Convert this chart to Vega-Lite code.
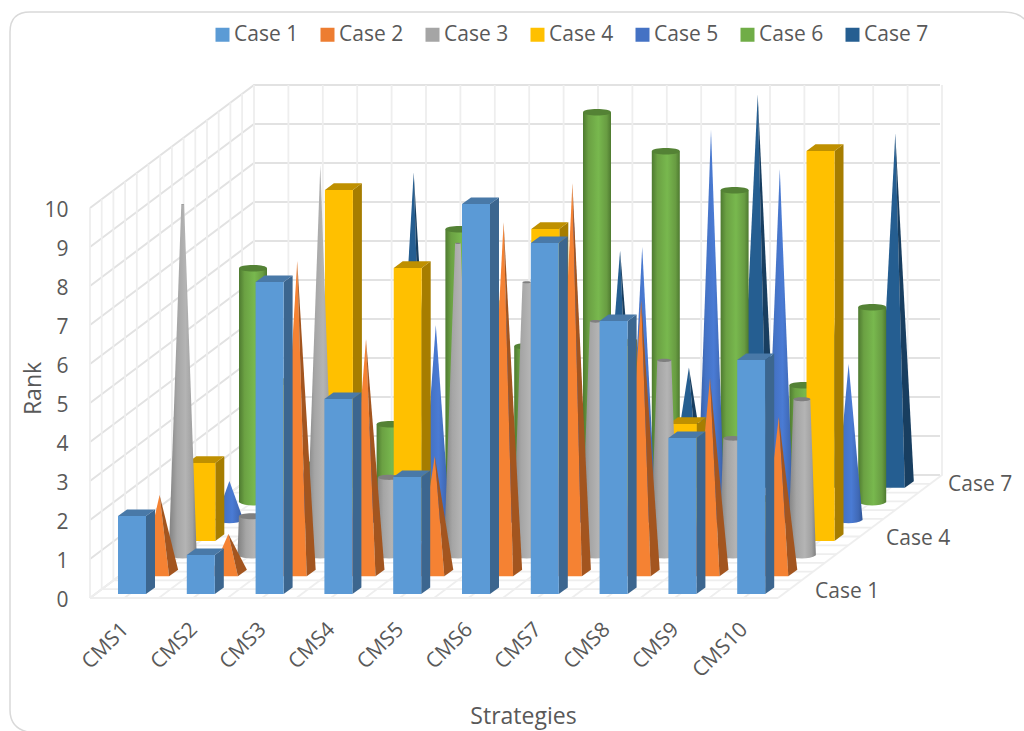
{"$schema":"https://vega.github.io/schema/vega-lite/v6.json","width":688,"height":390,"autosize":"none","padding":{"left":90,"top":208,"right":246,"bottom":133},"background":"white","view":{"stroke":null},
"config":{"font":"Open Sans"},
"datasets":{"ranks":[
{"strategy":"CMS1","case":"Case 1","value":2},{"strategy":"CMS2","case":"Case 1","value":1},{"strategy":"CMS3","case":"Case 1","value":8},{"strategy":"CMS4","case":"Case 1","value":5},{"strategy":"CMS5","case":"Case 1","value":3},{"strategy":"CMS6","case":"Case 1","value":10},{"strategy":"CMS7","case":"Case 1","value":9},{"strategy":"CMS8","case":"Case 1","value":7},{"strategy":"CMS9","case":"Case 1","value":4},{"strategy":"CMS10","case":"Case 1","value":6},
{"strategy":"CMS1","case":"Case 2","value":2},{"strategy":"CMS2","case":"Case 2","value":1},{"strategy":"CMS3","case":"Case 2","value":8},{"strategy":"CMS4","case":"Case 2","value":6},{"strategy":"CMS5","case":"Case 2","value":3},{"strategy":"CMS6","case":"Case 2","value":9},{"strategy":"CMS7","case":"Case 2","value":10},{"strategy":"CMS8","case":"Case 2","value":7},{"strategy":"CMS9","case":"Case 2","value":5},{"strategy":"CMS10","case":"Case 2","value":4},
{"strategy":"CMS1","case":"Case 3","value":9},{"strategy":"CMS2","case":"Case 3","value":1},{"strategy":"CMS3","case":"Case 3","value":10},{"strategy":"CMS4","case":"Case 3","value":2},{"strategy":"CMS5","case":"Case 3","value":8},{"strategy":"CMS6","case":"Case 3","value":7},{"strategy":"CMS7","case":"Case 3","value":6},{"strategy":"CMS8","case":"Case 3","value":5},{"strategy":"CMS9","case":"Case 3","value":3},{"strategy":"CMS10","case":"Case 3","value":4},
{"strategy":"CMS1","case":"Case 4","value":2},{"strategy":"CMS2","case":"Case 4","value":4},{"strategy":"CMS3","case":"Case 4","value":9},{"strategy":"CMS4","case":"Case 4","value":7},{"strategy":"CMS5","case":"Case 4","value":6},{"strategy":"CMS6","case":"Case 4","value":8},{"strategy":"CMS7","case":"Case 4","value":5},{"strategy":"CMS8","case":"Case 4","value":3},{"strategy":"CMS9","case":"Case 4","value":1},{"strategy":"CMS10","case":"Case 4","value":10},
{"strategy":"CMS1","case":"Case 5","value":1},{"strategy":"CMS2","case":"Case 5","value":2},{"strategy":"CMS3","case":"Case 5","value":3},{"strategy":"CMS4","case":"Case 5","value":5},{"strategy":"CMS5","case":"Case 5","value":6},{"strategy":"CMS6","case":"Case 5","value":8},{"strategy":"CMS7","case":"Case 5","value":7},{"strategy":"CMS8","case":"Case 5","value":10},{"strategy":"CMS9","case":"Case 5","value":9},{"strategy":"CMS10","case":"Case 5","value":4},
{"strategy":"CMS1","case":"Case 6","value":6},{"strategy":"CMS2","case":"Case 6","value":1},{"strategy":"CMS3","case":"Case 6","value":2},{"strategy":"CMS4","case":"Case 6","value":7},{"strategy":"CMS5","case":"Case 6","value":4},{"strategy":"CMS6","case":"Case 6","value":10},{"strategy":"CMS7","case":"Case 6","value":9},{"strategy":"CMS8","case":"Case 6","value":8},{"strategy":"CMS9","case":"Case 6","value":3},{"strategy":"CMS10","case":"Case 6","value":5},
{"strategy":"CMS1","case":"Case 7","value":2},{"strategy":"CMS2","case":"Case 7","value":1},{"strategy":"CMS3","case":"Case 7","value":8},{"strategy":"CMS4","case":"Case 7","value":5},{"strategy":"CMS5","case":"Case 7","value":4},{"strategy":"CMS6","case":"Case 7","value":6},{"strategy":"CMS7","case":"Case 7","value":3},{"strategy":"CMS8","case":"Case 7","value":10},{"strategy":"CMS9","case":"Case 7","value":7},{"strategy":"CMS10","case":"Case 7","value":9}
],"levels":[{"strategy":"CMS1","value":0},{"strategy":"CMS1","value":1},{"strategy":"CMS1","value":2},{"strategy":"CMS1","value":3},{"strategy":"CMS1","value":4},{"strategy":"CMS1","value":5},{"strategy":"CMS1","value":6},{"strategy":"CMS1","value":7},{"strategy":"CMS1","value":8},{"strategy":"CMS1","value":9},{"strategy":"CMS1","value":10}]},
"data":{"name":"ranks"},
"resolve":{"scale":{"shape":"independent"}},
"encoding":{
"x":{"field":"strategy","type":"nominal","sort":null,"scale":{"type":"band","domain":["CMS1","CMS2","CMS3","CMS4","CMS5","CMS6","CMS7","CMS8","CMS9","CMS10"],"paddingInner":0,"paddingOuter":0},"axis":{"title":"Strategies","titleFont":"Open Sans","titleFontSize":23,"titleFontWeight":"normal","titleColor":"#595959","titleX":433,"titleY":118,"titleBaseline":"middle","titleAlign":"center","labelAngle":-45,"labelAlign":"right","labelBaseline":"middle","labelFont":"Open Sans","labelFontSize":21,"labelColor":"#595959","labelPadding":28,"labelOffset":1,"ticks":false,"domain":false,"grid":false}},
"y":{"field":"value","type":"quantitative","scale":{"domain":[0,10],"nice":false},"axis":{"title":"Rank","titleFont":"Open Sans","titleFontSize":23,"titleFontWeight":"normal","titleColor":"#595959","titleX":-57,"titleY":180,"titleBaseline":"middle","labelFont":"Open Sans","labelFontSize":21,"labelColor":"#595959","labelPadding":22,"labelOffset":2,"ticks":false,"domain":false,"grid":false,"values":[0,1,2,3,4,5,6,7,8,9,10]}}
},
"layer":[
{"mark":{"type":"point","filled":true,"size":0,"opacity":1},"encoding":{"color":{"field":"case","type":"nominal","scale":{"domain":["Case 1","Case 2","Case 3","Case 4","Case 5","Case 6","Case 7"],"range":["#5B9BD5","#ED7D31","#A5A5A5","#FFC000","#4472C4","#70AD47","#255E91"]},"legend":{"orient":"none","legendX":122,"legendY":-184,"direction":"horizontal","columns":7,"title":null,"symbolType":"square","symbolSize":196,"symbolOpacity":1,"symbolStrokeWidth":0,"labelFont":"Open Sans","labelFontSize":21,"labelColor":"#595959","labelOffset":1,"columnPadding":18,"gridAlign":"each"}}}},
{"data":{"name":"levels"},"mark":{"type":"point","filled":false,"opacity":1,"size":4,"shape":"M-62,134Q-80,130 -80,112L-80,-566Q-80,-586 -60,-586L914,-586Q934,-586 940,-570","stroke":"#d9d9d9","strokeWidth":1.5,"xOffset":-34.4},"transform":[{"filter":"datum.value==0"}]},
{"data":{"name":"levels"},"mark":{"type":"point","filled":false,"opacity":1,"size":4,"shape":"M0,0L164,-123L850,-123","stroke":"#e2e2e2","strokeWidth":2,"xOffset":-34.4}},
{"data":{"name":"levels"},"transform":[{"filter":"datum.value==0"}],"mark":{"type":"point","filled":false,"opacity":1,"size":4,"stroke":"#eeeeee","strokeWidth":1.8,"xOffset":-34.4,"shape":"M0,0L0,-390M0,0L688,0M11.7,-8.8L11.7,-398.8M11.7,-8.8L699.7,-8.8M23.4,-17.6L23.4,-407.6M23.4,-17.6L711.4,-17.6M35.1,-26.4L35.1,-416.4M35.1,-26.4L723.1,-26.4M46.8,-35.1L46.8,-425.1M46.8,-35.1L734.8,-35.1M58.5,-43.9L58.5,-433.9M58.5,-43.9L746.5,-43.9M70.2,-52.7L70.2,-442.7M70.2,-52.7L758.2,-52.7M81.9,-61.5L81.9,-451.5M81.9,-61.5L769.9,-61.5M93.6,-70.3L93.6,-460.3M93.6,-70.3L781.6,-70.3M105.3,-79.1L105.3,-469.1M105.3,-79.1L793.3,-79.1M117,-87.9L117,-477.9M117,-87.9L805,-87.9M128.7,-96.6L128.7,-486.6M128.7,-96.6L816.7,-96.6M140.4,-105.4L140.4,-495.4M140.4,-105.4L828.4,-105.4M152.1,-114.2L152.1,-504.2M152.1,-114.2L840.1,-114.2"}},
{"transform":[{"filter":"datum.case=='Case 1'"}],"mark":{"type":"point","filled":false,"opacity":1,"size":4,"stroke":"#eeeeee","strokeWidth":1.8,"xOffset":-34.4,"shape":"M0,0L164,-123L164,-513"},"encoding":{"y":{"datum":0}}},
{"transform":[{"filter":"datum.case=='Case 1'"}],"mark":{"type":"point","filled":false,"opacity":1,"size":4,"stroke":"#eeeeee","strokeWidth":1.8,"shape":"M0,0L164,-123L164,-513"},"encoding":{"y":{"datum":0}}},
{"transform":[{"filter":"datum.case=='Case 1'&&datum.strategy=='CMS10'"}],"mark":{"type":"point","filled":false,"opacity":1,"size":4,"stroke":"#eeeeee","strokeWidth":1.8,"xOffset":34.4,"shape":"M0,0L164,-123L164,-513"},"encoding":{"y":{"datum":0}}},

{"transform":[{"filter":"datum.case=='Case 7'"}],"mark":{"type":"point","filled":true,"opacity":1,"size":4,"fill":"#255E91","stroke":null,"xOffset":151.7,"yOffset":-113.5},"encoding":{"shape":{"field":"value","type":"nominal","legend":null,"scale":{"domain":[1,2,3,4,5,6,7,8,9,10],"range":["M0,0L-18.5,42.3L9.5,42.3Z","M0,0L-18.5,81.3L9.5,81.3Z","M0,0L-18.5,120.3L9.5,120.3Z","M0,0L-18.5,159.3L9.5,159.3Z","M0,0L-18.5,198.3L9.5,198.3Z","M0,0L-18.5,237.3L9.5,237.3Z","M0,0L-18.5,276.3L9.5,276.3Z","M0,0L-18.5,315.3L9.5,315.3Z","M0,0L-18.5,354.3L9.5,354.3Z","M0,0L-18.5,393.3L9.5,393.3Z"]}}}},
{"transform":[{"filter":"datum.case=='Case 7'"}],"mark":{"type":"point","filled":true,"opacity":1,"size":4,"fill":"#183E60","stroke":null,"xOffset":151.7,"yOffset":-113.5},"encoding":{"shape":{"field":"value","type":"nominal","legend":null,"scale":{"domain":[1,2,3,4,5,6,7,8,9,10],"range":["M0,0L9.5,42.3L18.5,35.7Z","M0,0L9.5,81.3L18.5,74.7Z","M0,0L9.5,120.3L18.5,113.7Z","M0,0L9.5,159.3L18.5,152.7Z","M0,0L9.5,198.3L18.5,191.7Z","M0,0L9.5,237.3L18.5,230.7Z","M0,0L9.5,276.3L18.5,269.7Z","M0,0L9.5,315.3L18.5,308.7Z","M0,0L9.5,354.3L18.5,347.7Z","M0,0L9.5,393.3L18.5,386.7Z"]}}}},

{"transform":[{"filter":"datum.case=='Case 6'"}],"mark":{"type":"point","filled":true,"opacity":1,"size":4,"stroke":null,"xOffset":128.6,"yOffset":-95.8,"fill":{"gradient":"linear","x1":0,"x2":1,"y1":0,"y2":0,"stops":[{"offset":0,"color":"#4e7a30"},{"offset":0.2,"color":"#6ba143"},{"offset":0.55,"color":"#78b84e"},{"offset":0.85,"color":"#689c42"},{"offset":1,"color":"#4e7a30"}]}},"encoding":{"shape":{"field":"value","type":"nominal","legend":null,"scale":{"domain":[1,2,3,4,5,6,7,8,9,10],"range":["M-14,0L-14,39C-8,43.4 8,43.4 14,39L14,0Z","M-14,0L-14,78C-8,82.4 8,82.4 14,78L14,0Z","M-14,0L-14,117C-8,121.4 8,121.4 14,117L14,0Z","M-14,0L-14,156C-8,160.4 8,160.4 14,156L14,0Z","M-14,0L-14,195C-8,199.4 8,199.4 14,195L14,0Z","M-14,0L-14,234C-8,238.4 8,238.4 14,234L14,0Z","M-14,0L-14,273C-8,277.4 8,277.4 14,273L14,0Z","M-14,0L-14,312C-8,316.4 8,316.4 14,312L14,0Z","M-14,0L-14,351C-8,355.4 8,355.4 14,351L14,0Z","M-14,0L-14,390C-8,394.4 8,394.4 14,390L14,0Z"]}}}},
{"transform":[{"filter":"datum.case=='Case 6'"}],"mark":{"type":"point","filled":true,"opacity":1,"size":4,"stroke":null,"fill":"#548235","xOffset":128.6,"yOffset":-95.8,"shape":"M-14,0C-14,-4.4 14,-4.4 14,0C14,4.4 -14,4.4 -14,0Z"}},

{"transform":[{"filter":"datum.case=='Case 5'"}],"mark":{"type":"point","filled":true,"opacity":1,"size":4,"stroke":null,"xOffset":105,"yOffset":-78.1,"fill":{"gradient":"linear","x1":0,"x2":1,"y1":0,"y2":0,"stops":[{"offset":0,"color":"#2f5597"},{"offset":0.3,"color":"#4472c4"},{"offset":0.6,"color":"#4a7bd4"},{"offset":0.85,"color":"#4069b6"},{"offset":1,"color":"#2f5597"}]}},"encoding":{"shape":{"field":"value","type":"nominal","legend":null,"scale":{"domain":[1,2,3,4,5,6,7,8,9,10],"range":["M0,0L-14,39C-8,43.4 8,43.4 14,39Z","M0,0L-14,78C-8,82.4 8,82.4 14,78Z","M0,0L-14,117C-8,121.4 8,121.4 14,117Z","M0,0L-14,156C-8,160.4 8,160.4 14,156Z","M0,0L-14,195C-8,199.4 8,199.4 14,195Z","M0,0L-14,234C-8,238.4 8,238.4 14,234Z","M0,0L-14,273C-8,277.4 8,277.4 14,273Z","M0,0L-14,312C-8,316.4 8,316.4 14,312Z","M0,0L-14,351C-8,355.4 8,355.4 14,351Z","M0,0L-14,390C-8,394.4 8,394.4 14,390Z"]}}}},

{"transform":[{"filter":"datum.case=='Case 4'"}],"mark":{"type":"point","filled":true,"opacity":1,"size":4,"fill":"#A67D00","stroke":null,"xOffset":76.9,"yOffset":-57.1},"encoding":{"shape":{"field":"value","type":"nominal","legend":null,"scale":{"domain":[1,2,3,4,5,6,7,8,9,10],"range":["M14,0L23,-6.6L23,32.4L14,39Z","M14,0L23,-6.6L23,71.4L14,78Z","M14,0L23,-6.6L23,110.4L14,117Z","M14,0L23,-6.6L23,149.4L14,156Z","M14,0L23,-6.6L23,188.4L14,195Z","M14,0L23,-6.6L23,227.4L14,234Z","M14,0L23,-6.6L23,266.4L14,273Z","M14,0L23,-6.6L23,305.4L14,312Z","M14,0L23,-6.6L23,344.4L14,351Z","M14,0L23,-6.6L23,383.4L14,390Z"]}}}},
{"transform":[{"filter":"datum.case=='Case 4'"}],"mark":{"type":"point","filled":true,"opacity":1,"size":4,"fill":"#BF9000","stroke":null,"xOffset":76.9,"yOffset":-57.1,"shape":"M-14,0L-5,-6.6L23,-6.6L14,0Z"}},
{"transform":[{"filter":"datum.case=='Case 4'"}],"mark":{"type":"bar","width":28,"fill":"#FFC000","xOffset":76.9,"yOffset":-57.1,"y2Offset":-57.1}},

{"transform":[{"filter":"datum.case=='Case 3'"}],"mark":{"type":"point","filled":true,"opacity":1,"size":4,"stroke":null,"xOffset":58.3,"yOffset":-42.7,"fill":{"gradient":"linear","x1":0,"x2":1,"y1":0,"y2":0,"stops":[{"offset":0,"color":"#7f7f7f"},{"offset":0.3,"color":"#a5a5a5"},{"offset":0.6,"color":"#b4b4b4"},{"offset":0.85,"color":"#a0a0a0"},{"offset":1,"color":"#7f7f7f"}]}},"encoding":{"shape":{"field":"value","type":"nominal","legend":null,"scale":{"domain":[1,2,3,4,5,6,7,8,9,10],"range":["M-12.6,0L-14,39C-8,43.4 8,43.4 14,39L12.6,0Z","M-11.2,0L-14,78C-8,82.4 8,82.4 14,78L11.2,0Z","M-9.8,0L-14,117C-8,121.4 8,121.4 14,117L9.8,0Z","M-8.4,0L-14,156C-8,160.4 8,160.4 14,156L8.4,0Z","M-7,0L-14,195C-8,199.4 8,199.4 14,195L7,0Z","M-5.6,0L-14,234C-8,238.4 8,238.4 14,234L5.6,0Z","M-4.2,0L-14,273C-8,277.4 8,277.4 14,273L4.2,0Z","M-2.8,0L-14,312C-8,316.4 8,316.4 14,312L2.8,0Z","M-1.4,0L-14,351C-8,355.4 8,355.4 14,351L1.4,0Z","M0,0L-14,390C-8,394.4 8,394.4 14,390Z"]}}}},
{"transform":[{"filter":"datum.case=='Case 3'"}],"mark":{"type":"point","filled":true,"opacity":1,"size":4,"stroke":null,"fill":"#7f7f7f","xOffset":58.3,"yOffset":-42.7},"encoding":{"shape":{"field":"value","type":"nominal","legend":null,"scale":{"domain":[1,2,3,4,5,6,7,8,9,10],"range":["M-12.6,0C-12.6,-4 12.6,-4 12.6,0C12.6,4 -12.6,4 -12.6,0Z","M-11.2,0C-11.2,-3.5 11.2,-3.5 11.2,0C11.2,3.5 -11.2,3.5 -11.2,0Z","M-9.8,0C-9.8,-3.1 9.8,-3.1 9.8,0C9.8,3.1 -9.8,3.1 -9.8,0Z","M-8.4,0C-8.4,-2.6 8.4,-2.6 8.4,0C8.4,2.6 -8.4,2.6 -8.4,0Z","M-7,0C-7,-2.2 7,-2.2 7,0C7,2.2 -7,2.2 -7,0Z","M-5.6,0C-5.6,-1.8 5.6,-1.8 5.6,0C5.6,1.8 -5.6,1.8 -5.6,0Z","M-4.2,0C-4.2,-1.3 4.2,-1.3 4.2,0C4.2,1.3 -4.2,1.3 -4.2,0Z","M-2.8,0C-2.8,-0.9 2.8,-0.9 2.8,0C2.8,0.9 -2.8,0.9 -2.8,0Z","M-1.4,0C-1.4,-0.4 1.4,-0.4 1.4,0C1.4,0.4 -1.4,0.4 -1.4,0Z","M0,0L0,0Z"]}}}},

{"transform":[{"filter":"datum.case=='Case 2'"}],"mark":{"type":"point","filled":true,"opacity":1,"size":4,"fill":"#F58233","stroke":null,"xOffset":35.2,"yOffset":-25},"encoding":{"shape":{"field":"value","type":"nominal","legend":null,"scale":{"domain":[1,2,3,4,5,6,7,8,9,10],"range":["M0,0L-18.5,42.3L9.5,42.3Z","M0,0L-18.5,81.3L9.5,81.3Z","M0,0L-18.5,120.3L9.5,120.3Z","M0,0L-18.5,159.3L9.5,159.3Z","M0,0L-18.5,198.3L9.5,198.3Z","M0,0L-18.5,237.3L9.5,237.3Z","M0,0L-18.5,276.3L9.5,276.3Z","M0,0L-18.5,315.3L9.5,315.3Z","M0,0L-18.5,354.3L9.5,354.3Z","M0,0L-18.5,393.3L9.5,393.3Z"]}}}},
{"transform":[{"filter":"datum.case=='Case 2'"}],"mark":{"type":"point","filled":true,"opacity":1,"size":4,"fill":"#A3551F","stroke":null,"xOffset":35.2,"yOffset":-25},"encoding":{"shape":{"field":"value","type":"nominal","legend":null,"scale":{"domain":[1,2,3,4,5,6,7,8,9,10],"range":["M0,0L9.5,42.3L18.5,35.7Z","M0,0L9.5,81.3L18.5,74.7Z","M0,0L9.5,120.3L18.5,113.7Z","M0,0L9.5,159.3L18.5,152.7Z","M0,0L9.5,198.3L18.5,191.7Z","M0,0L9.5,237.3L18.5,230.7Z","M0,0L9.5,276.3L18.5,269.7Z","M0,0L9.5,315.3L18.5,308.7Z","M0,0L9.5,354.3L18.5,347.7Z","M0,0L9.5,393.3L18.5,386.7Z"]}}}},

{"transform":[{"filter":"datum.case=='Case 1'"}],"mark":{"type":"point","filled":true,"opacity":1,"size":4,"fill":"#3C668F","stroke":null,"xOffset":7.6,"yOffset":-4},"encoding":{"shape":{"field":"value","type":"nominal","legend":null,"scale":{"domain":[1,2,3,4,5,6,7,8,9,10],"range":["M14,0L23,-6.6L23,32.4L14,39Z","M14,0L23,-6.6L23,71.4L14,78Z","M14,0L23,-6.6L23,110.4L14,117Z","M14,0L23,-6.6L23,149.4L14,156Z","M14,0L23,-6.6L23,188.4L14,195Z","M14,0L23,-6.6L23,227.4L14,234Z","M14,0L23,-6.6L23,266.4L14,273Z","M14,0L23,-6.6L23,305.4L14,312Z","M14,0L23,-6.6L23,344.4L14,351Z","M14,0L23,-6.6L23,383.4L14,390Z"]}}}},
{"transform":[{"filter":"datum.case=='Case 1'"}],"mark":{"type":"point","filled":true,"opacity":1,"size":4,"fill":"#4979A8","stroke":null,"xOffset":7.6,"yOffset":-4,"shape":"M-14,0L-5,-6.6L23,-6.6L14,0Z"}},
{"transform":[{"filter":"datum.case=='Case 1'"}],"mark":{"type":"bar","width":28,"fill":"#5B9AD6","xOffset":7.6,"yOffset":-4,"y2Offset":-4}},

{"transform":[{"filter":"datum.case=='Case 1'&&datum.strategy=='CMS10'"}],"mark":{"type":"text","align":"left","baseline":"middle","font":"Open Sans","fontSize":21,"color":"#595959","xOffset":71.4,"yOffset":-6},"encoding":{"y":{"datum":0},"text":{"field":"case"}}},
{"transform":[{"filter":"datum.case=='Case 4'&&datum.strategy=='CMS10'"}],"mark":{"type":"text","align":"left","baseline":"middle","font":"Open Sans","fontSize":21,"color":"#595959","xOffset":142.4,"yOffset":-59},"encoding":{"y":{"datum":0},"text":{"field":"case"}}},
{"transform":[{"filter":"datum.case=='Case 7'&&datum.strategy=='CMS10'"}],"mark":{"type":"text","align":"left","baseline":"middle","font":"Open Sans","fontSize":21,"color":"#595959","xOffset":204.4,"yOffset":-113},"encoding":{"y":{"datum":0},"text":{"field":"case"}}}
]}
